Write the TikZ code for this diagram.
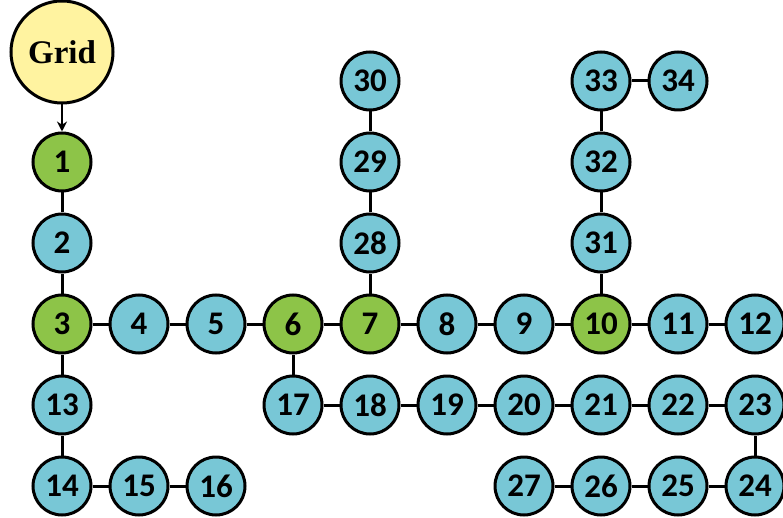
\documentclass[tikz,border=0pt]{standalone}
\usepackage{fontspec}
\setmainfont{Carlito}
\newfontfamily\gridfont{Liberation Serif}
\usepackage{xcolor}
\usetikzlibrary{arrows.meta, positioning}

\definecolor{busblue}{RGB}{120,199,214}
\definecolor{busgreen}{RGB}{141,196,72}
\definecolor{gridyellow}{RGB}{255,243,160}

\tikzset{
  bus/.style={circle, draw, line width=3pt, fill=busblue, minimum size=58pt, inner sep=0pt,
    font=\fontsize{33}{33}\selectfont\bfseries},
  feeder/.style={bus, fill=busgreen},
  source/.style={circle, draw, line width=3pt, fill=gridyellow, minimum size=102pt, inner sep=0pt,
    font=\gridfont\fontsize{33}{33}\selectfont\bfseries},
  link/.style={line width=3pt}
}

\begin{document}
\begin{tikzpicture}[x=1pt, y=-1pt, on grid, node distance=81pt and 77pt]
		\useasboundingbox (0,0) rectangle (783,518);
		% Source
		\node[source] (grid) at (62,52) {Grid};
		
		% Départ principal
		\node[feeder, below=110pt of grid] (n1) {1};
		\node[bus, below=of n1] (n2) {2};
		\node[feeder, below=of n2] (n3) {3};
		\node[bus, right=of n3] (n4) {4};
		\node[bus, right=of n4] (n5) {5};
		\node[feeder, right=of n5] (n6) {6};
		\node[feeder, right=of n6] (n7) {7};
		\node[bus, right=of n7] (n8) {8};
		\node[bus, right=of n8] (n9) {9};
		\node[feeder, right=of n9] (n10) {10};
		\node[bus, right=of n10] (n11) {11};
		\node[bus, right=of n11] (n12) {12};
		
		% Branche 13-16
		\node[bus, below=of n3] (n13) {13};
		\node[bus, below=of n13] (n14) {14};
		\node[bus, right=of n14] (n15) {15};
		\node[bus, right=of n15] (n16) {16};
		
		% Branche 17-27
		\node[bus, below=of n6] (n17) {17};
		\node[bus, right=of n17] (n18) {18};
		\node[bus, right=of n18] (n19) {19};
		\node[bus, right=of n19] (n20) {20};
		\node[bus, right=of n20] (n21) {21};
		\node[bus, right=of n21] (n22) {22};
		\node[bus, right=of n22] (n23) {23};
		\node[bus, below=of n23] (n24) {24};
		\node[bus, left=of n24] (n25) {25};
		\node[bus, left=of n25] (n26) {26};
		\node[bus, left=of n26] (n27) {27};
		
		% Branche 28-30
		\node[bus, above=of n7] (n28) {28};
		\node[bus, above=of n28] (n29) {29};
		\node[bus, above=of n29] (n30) {30};
		
		% Branche 31-34
		\node[bus, above=of n10] (n31) {31};
		\node[bus, above=of n31] (n32) {32};
		\node[bus, above=of n32] (n33) {33};
		\node[bus, right=of n33] (n34) {34};
		
		% Liaisons
		\draw[-{Stealth[length=10pt, width=10pt]}, line width=2.2pt] (grid) -- (n1);
		\draw[link] (n1) -- (n2) -- (n3) -- (n13) -- (n14) -- (n15) -- (n16);
		\draw[link] (n3) -- (n4) -- (n5) -- (n6) -- (n7) -- (n8) -- (n9) -- (n10) -- (n11) -- (n12);
		\draw[link] (n6) -- (n17) -- (n18) -- (n19) -- (n20) -- (n21) -- (n22) -- (n23) -- (n24) -- (n25) -- (n26) -- (n27);
		\draw[link] (n7) -- (n28) -- (n29) -- (n30);
		\draw[link] (n10) -- (n31) -- (n32) -- (n33) -- (n34);
		
	\end{tikzpicture}
\end{document}
